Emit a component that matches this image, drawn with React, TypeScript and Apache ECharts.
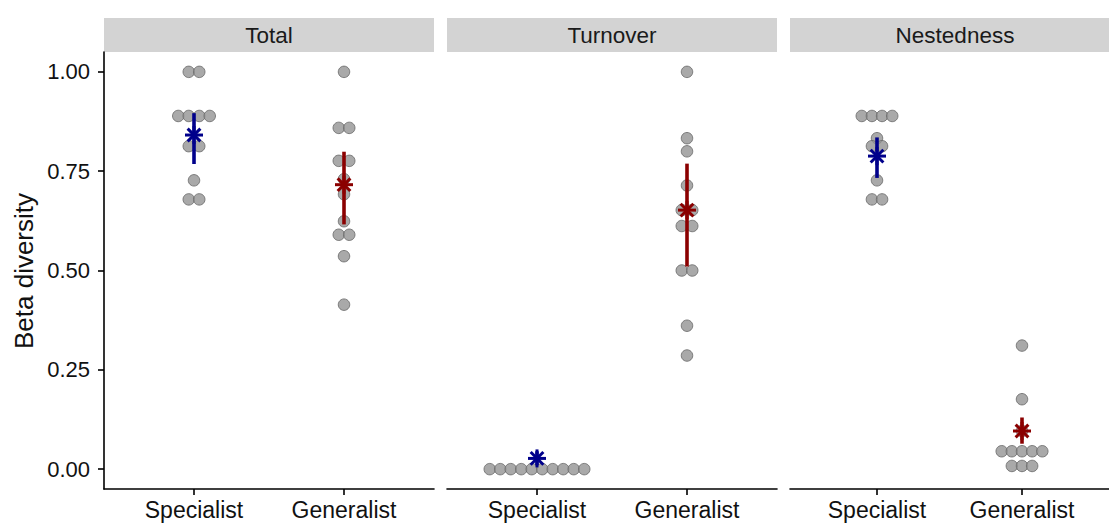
import React, { useEffect, useRef } from "react";
import * as echarts from "echarts";

// Facets, groups and axis ticks
const facets = ["Total", "Turnover", "Nestedness"];
const groups = ["Specialist", "Generalist"];
const yTicks = [0, 0.25, 0.5, 0.75, 1];

// Beta diversity per site pair, by facet and group
const totalSpecialist = [1, 1, 0.889, 0.889, 0.889, 0.889, 0.813, 0.813, 0.727, 0.679, 0.679];
const totalGeneralist = [1, 0.859, 0.859, 0.776, 0.776, 0.73, 0.692, 0.624, 0.59, 0.59, 0.536, 0.414];
const turnoverSpecialist = [0, 0, 0, 0, 0, 0, 0, 0, 0, 0];
const turnoverGeneralist = [1, 0.833, 0.8, 0.714, 0.652, 0.652, 0.612, 0.612, 0.5, 0.5, 0.361, 0.286];
const nestednessSpecialist = [0.889, 0.889, 0.889, 0.889, 0.833, 0.813, 0.813, 0.727, 0.679, 0.679];
const nestednessGeneralist = [0.311, 0.176, 0.096, 0.045, 0.045, 0.045, 0.045, 0.045, 0.008, 0.008, 0.008];

// Summary (mean with interval) per facet: Total, Turnover, Nestedness
const specialistMean = [0.841, 0.027, 0.788];
const specialistLow = [0.768, 0.01, 0.733];
const specialistHigh = [0.896, 0.045, 0.835];
const generalistMean = [0.716, 0.652, 0.096];
const generalistLow = [0.616, 0.51, 0.064];
const generalistHigh = [0.799, 0.769, 0.13];

const groupColors = ["#00008B", "#8B0000"];

const FONT = "'Liberation Sans', Arial, Helvetica, sans-serif";
const DOT_STEP = 0.07; // horizontal spacing of stacked dots, in axis units

// Spread identical values side by side around the group centre
function swarm(values: number[], center: number, step: number) {
  const counts = new Map<number, number>();
  values.forEach((v) => counts.set(v, (counts.get(v) || 0) + 1));
  const seen = new Map<number, number>();
  return values.map((v) => {
    const n = counts.get(v) as number;
    const i = seen.get(v) || 0;
    seen.set(v, i + 1);
    return [center + (i - (n - 1) / 2) * step, v];
  });
}

export default function App() {
  const ref = useRef<HTMLDivElement>(null);

  useEffect(() => {
    if (!ref.current) return;
    const chart = echarts.init(ref.current, null, { renderer: "svg" });

    const panelLefts = [104, 447, 790];
    const panelWidth = 330;
    const panelTop = 52;
    const panelHeight = 437;

    const rawByFacet = [
      [totalSpecialist, totalGeneralist],
      [turnoverSpecialist, turnoverGeneralist],
      [nestednessSpecialist, nestednessGeneralist],
    ];

    const grids = panelLefts.map((left) => ({
      left,
      top: panelTop,
      width: panelWidth,
      height: panelHeight,
    }));

    const xAxes = panelLefts.map((_, i) => ({
      type: "value",
      gridIndex: i,
      min: 0.4,
      max: 2.6,
      splitLine: { show: false },
      axisLine: { show: true, onZero: false, lineStyle: { color: "#000", width: 1.6 } },
      axisTick: {
        show: true,
        customValues: [1, 2],
        length: 6,
        lineStyle: { color: "#000", width: 1.6 },
      },
      axisLabel: {
        show: true,
        customValues: [1, 2],
        formatter: (v: number) => groups[Math.round(v) - 1] || "",
        color: "#111",
        fontSize: 23,
        fontFamily: FONT,
        margin: 9,
      },
    }));

    const yAxes = panelLefts.map((_, i) => ({
      type: "value",
      gridIndex: i,
      min: -0.05,
      max: 1.05,
      show: i === 0,
      splitLine: { show: false },
      axisLine: { show: true, onZero: false, lineStyle: { color: "#000", width: 1.6 } },
      axisTick: {
        show: true,
        customValues: yTicks,
        length: 6,
        lineStyle: { color: "#000", width: 1.6 },
      },
      axisLabel: {
        show: true,
        customValues: yTicks,
        formatter: (v: number) => v.toFixed(2),
        color: "#111",
        fontSize: 22,
        fontFamily: FONT,
        margin: 14,
      },
    }));

    const dotSeries = rawByFacet.map((pair, i) => ({
      type: "scatter",
      xAxisIndex: i,
      yAxisIndex: i,
      symbol: "circle",
      symbolSize: 11.5,
      clip: false,
      itemStyle: { color: "#939393", borderColor: "#666666", borderWidth: 1 },
      data: [...swarm(pair[0], 1, DOT_STEP), ...swarm(pair[1], 2, DOT_STEP)],
      z: 2,
    }));

    const summarySeries = facets.map((_, i) => ({
      type: "custom",
      xAxisIndex: i,
      yAxisIndex: i,
      clip: false,
      z: 3,
      encode: { x: 0, y: 1 },
      data: [
        [1, specialistMean[i], specialistLow[i], specialistHigh[i], 0],
        [2, generalistMean[i], generalistLow[i], generalistHigh[i], 1],
      ],
      renderItem: (_params: any, api: any) => {
        const x = api.value(0);
        const color = groupColors[api.value(4)];
        const c = api.coord([x, api.value(1)]);
        const lo = api.coord([x, api.value(2)]);
        const hi = api.coord([x, api.value(3)]);
        const r = 9;
        const d = r * Math.SQRT1_2;
        const arm = (dx: number, dy: number) => ({
          type: "line",
          shape: { x1: c[0] - dx, y1: c[1] - dy, x2: c[0] + dx, y2: c[1] + dy },
          style: { stroke: color, lineWidth: 3 },
        });
        return {
          type: "group",
          children: [
            {
              type: "line",
              shape: { x1: hi[0], y1: hi[1], x2: lo[0], y2: lo[1] },
              style: { stroke: color, lineWidth: 3.6 },
            },
            arm(r, 0),
            arm(0, r),
            arm(d, d),
            arm(d, -d),
          ],
        };
      },
    }));

    // Facet strips and the shared y-axis title
    const strips: any[] = [];
    panelLefts.forEach((left, i) => {
      strips.push({
        type: "rect",
        shape: { x: left, y: 18, width: panelWidth, height: 34 },
        style: { fill: "#d3d3d3" },
        silent: true,
      });
      strips.push({
        type: "text",
        x: left + panelWidth / 2,
        y: 35,
        style: {
          text: facets[i],
          fill: "#1a1a1a",
          font: `22.5px ${FONT}`,
          textAlign: "center",
          textVerticalAlign: "middle",
        },
        silent: true,
      });
    });
    strips.push({
      type: "text",
      x: 24,
      y: 271,
      rotation: Math.PI / 2,
      style: {
        text: "Beta diversity",
        fill: "#111",
        font: `26px ${FONT}`,
        textAlign: "center",
        textVerticalAlign: "middle",
      },
      silent: true,
    });

    chart.setOption({
      animation: false,
      backgroundColor: "#ffffff",
      grid: grids,
      xAxis: xAxes,
      yAxis: yAxes,
      series: [...dotSeries, ...summarySeries],
      graphic: strips,
    });

    return () => chart.dispose();
  }, []);

  return (
    <div
      ref={ref}
      style={{ position: "absolute", left: 0, top: 0, width: 1109, height: 523 }}
    />
  );
}
